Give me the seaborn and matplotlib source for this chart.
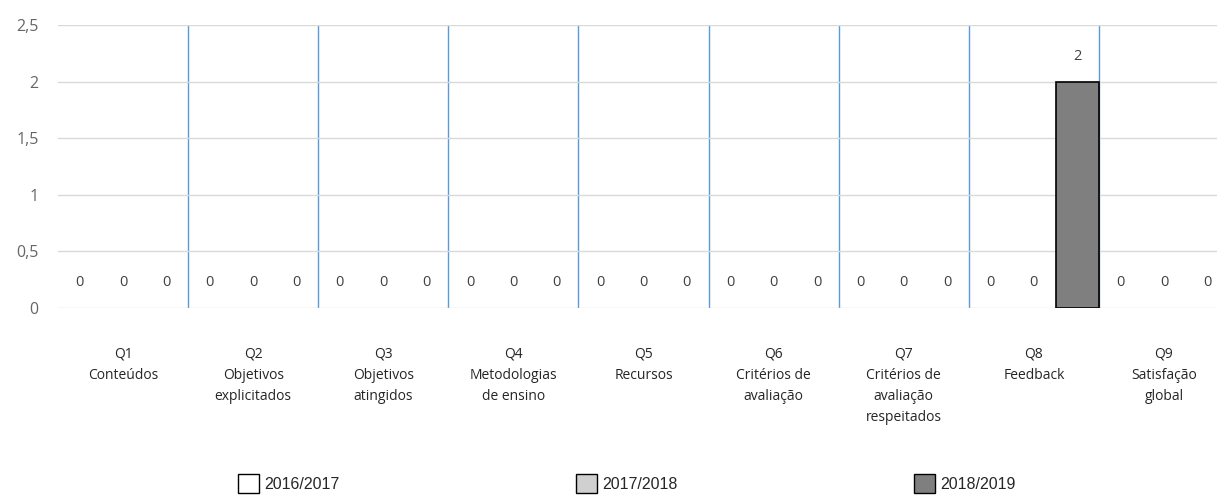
import seaborn as sns
import matplotlib.pyplot as plt
import pandas as pd
from matplotlib.patches import Patch

# questions on the x axis, one value per school year
categories = ['Q1\nConteúdos', 'Q2\nObjetivos\nexplicitados', 'Q3\nObjetivos\natingidos',
              'Q4\nMetodologias\nde ensino', 'Q5\nRecursos', 'Q6\nCritérios de\navaliação',
              'Q7\nCritérios de\navaliação\nrespeitados', 'Q8\nFeedback', 'Q9\nSatisfação\nglobal']
years = ['2016/2017', '2017/2018', '2018/2019']
v_2016 = [0, 0, 0, 0, 0, 0, 0, 0, 0]
v_2017 = [0, 0, 0, 0, 0, 0, 0, 0, 0]
v_2018 = [0, 0, 0, 0, 0, 0, 0, 2, 0]
y_ticks = [0, 0.5, 1, 1.5, 2, 2.5]
y_ticklabels = ['0', '0,5', '1', '1,5', '2', '2,5']
colors = ['#ffffff', '#d0d0d0', '#7f7f7f']

rows = []
for yr, vals in zip(years, [v_2016, v_2017, v_2018]):
    for c, v in zip(categories, vals):
        rows.append({'cat': c, 'year': yr, 'val': v})
df = pd.DataFrame(rows)

sns.set_style('white')
plt.rcParams['font.family'] = ['Open Sans', 'DejaVu Sans']

fig = plt.figure(figsize=(12.17, 4.97), dpi=100)
ax = fig.add_axes([58 / 1217, 189 / 497, 1171 / 1217, 283 / 497])

sns.barplot(data=df, x='cat', y='val', hue='year', palette=colors, width=1.0,
            edgecolor='black', linewidth=1.2, ax=ax, legend=False)

# no outline for empty bars
for p in ax.patches:
    if p.get_height() == 0:
        p.set_linewidth(0)

for cont in ax.containers:
    ax.bar_label(cont, labels=[f'{v:g}' for v in cont.datavalues], padding=13,
                 fontsize=10.5, color='#404040')

ax.set_ylim(0, 2.5)
ax.set_xlim(-0.5, 8.5)
ax.set_yticks(y_ticks)
ax.set_yticklabels(y_ticklabels, color='#666666', fontsize=11.5)
ax.yaxis.grid(True, color='#d9d9d9', linewidth=1)
ax.set_axisbelow(True)
for i in range(len(categories) - 1):
    ax.axvline(i + 0.5, color='#5b9bd5', linewidth=1, zorder=0.5)
for s in ax.spines.values():
    s.set_visible(False)
ax.tick_params(axis='y', length=0, pad=14)
ax.tick_params(axis='x', length=0, pad=28)
ax.set_xticks(range(len(categories)))
ax.set_xticklabels(categories, fontsize=10, color='#262626', linespacing=1.55, va='top')
ax.set_xlabel('')
ax.set_ylabel('')

handles = [Patch(facecolor=c, edgecolor='black', linewidth=1) for c in colors]
fig.legend(handles, years, loc='lower center', bbox_to_anchor=(0.515, -0.02), ncol=3,
           frameon=False, handlelength=1.3, handleheight=1.4, handletextpad=0.35,
           columnspacing=14.8, prop={'family': 'Liberation Sans', 'size': 11.5})

fig.savefig('out.png', dpi=100)
